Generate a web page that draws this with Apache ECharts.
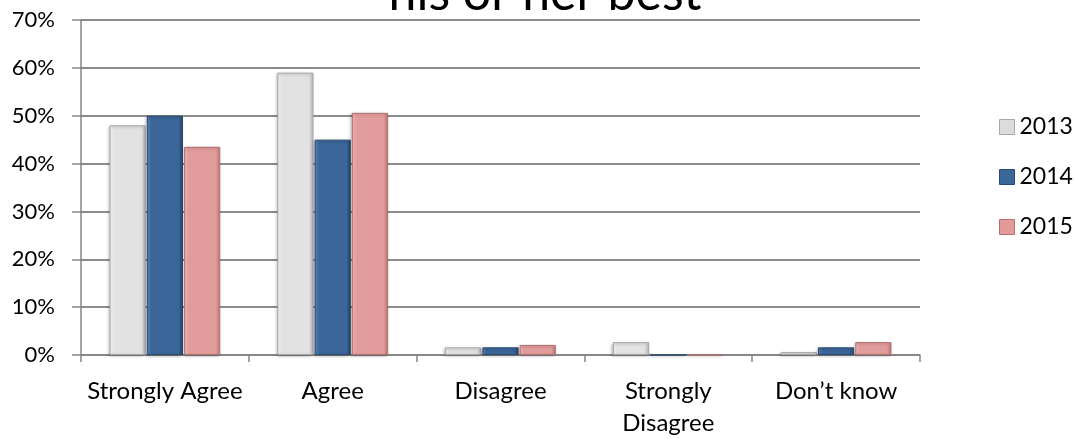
<!DOCTYPE html>
<html>
<head>
<meta charset="utf-8">
<script src="https://cdn.jsdelivr.net/npm/echarts@6/dist/echarts.min.js"></script>
<style>
  html, body { margin: 0; padding: 0; background: #fff; }
  #chart { width: 1076px; height: 439px; }
</style>
</head>
<body>
<div id="chart"></div>
<script>
const categories = ['Strongly Agree', 'Agree', 'Disagree', 'Strongly\nDisagree', 'Don\u2019t know'];
const years = ['2013', '2014', '2015'];
const values2013 = [48, 59, 1.6, 2.7, 0.6];
const values2014 = [50, 45, 1.6, 0, 1.6];
const values2015 = [43.5, 50.6, 2.1, 0.1, 2.7];
const yTicks = [0, 10, 20, 30, 40, 50, 60, 70];

const font = 'Lato, "Open Sans", sans-serif';

// bevel-ish look: lighter left edge, darker right edge
function bevel(light, mid, dark) {
  return new echarts.graphic.LinearGradient(0, 0, 1, 0, [
    { offset: 0, color: light },
    { offset: 0.12, color: mid },
    { offset: 0.88, color: mid },
    { offset: 1, color: dark }
  ]);
}

const styles = [
  { color: bevel('#f4f4f4', '#e2e2e2', '#c4c4c4'), border: '#a8a8a8', legend: '#dcdcdc' },
  { color: bevel('#5a86bb', '#3a6699', '#2a4d78'), border: '#2a4a70', legend: '#3a6699' },
  { color: bevel('#f2b8b8', '#e39c9c', '#c98080'), border: '#b57070', legend: '#e39a9a' }
];

const seriesData = [values2013, values2014, values2015];

const chart = echarts.init(document.getElementById('chart'));
chart.setOption({
  animation: false,
  title: {
    text: 'his or her best',
    left: 540,
    textAlign: 'center',
    top: -36,
    textStyle: { fontFamily: font, fontSize: 50, fontWeight: 'normal', color: '#000' }
  },
  legend: {
    orient: 'vertical',
    left: 994,
    top: 108,
    itemWidth: 15,
    itemHeight: 15,
    itemGap: 22,
    icon: 'rect',
    data: years.map((y, i) => ({ name: y, itemStyle: { color: styles[i].legend, borderColor: styles[i].border, borderWidth: 1 } })),
    textStyle: { fontFamily: font, fontSize: 23, color: '#000', lineHeight: 28 }
  },
  grid: { left: 81, right: 156, top: 20, bottom: 81 },
  xAxis: {
    type: 'category',
    data: categories,
    axisLine: { lineStyle: { color: '#868686', width: 1.5 } },
    axisTick: { show: true, length: 7, lineStyle: { color: '#868686', width: 1.5 } },
    axisLabel: { interval: 0, fontFamily: font, fontSize: 24, color: '#000', margin: 20, lineHeight: 32 }
  },
  yAxis: {
    type: 'value',
    min: 0,
    max: 70,
    interval: 10,
    axisLine: { show: true, lineStyle: { color: '#868686', width: 1.5 } },
    axisTick: { show: true, length: 9, lineStyle: { color: '#868686', width: 1.5 } },
    splitLine: { lineStyle: { color: '#8c8c8c', width: 2 } },
    axisLabel: {
      fontFamily: font, fontSize: 22, color: '#000', margin: 26,
      formatter: v => (yTicks.indexOf(v) >= 0 ? v + '%' : '')
    }
  },
  series: years.map((y, i) => ({
    name: y,
    type: 'bar',
    data: seriesData[i],
    barGap: '3%',
    barCategoryGap: '34%',
    itemStyle: {
      color: styles[i].color, borderColor: styles[i].border, borderWidth: 1,
      shadowColor: 'rgba(0,0,0,0.25)', shadowBlur: 3, shadowOffsetX: -1, shadowOffsetY: 1
    },
    emphasis: { disabled: true }
  }))
});
</script>
</body>
</html>
